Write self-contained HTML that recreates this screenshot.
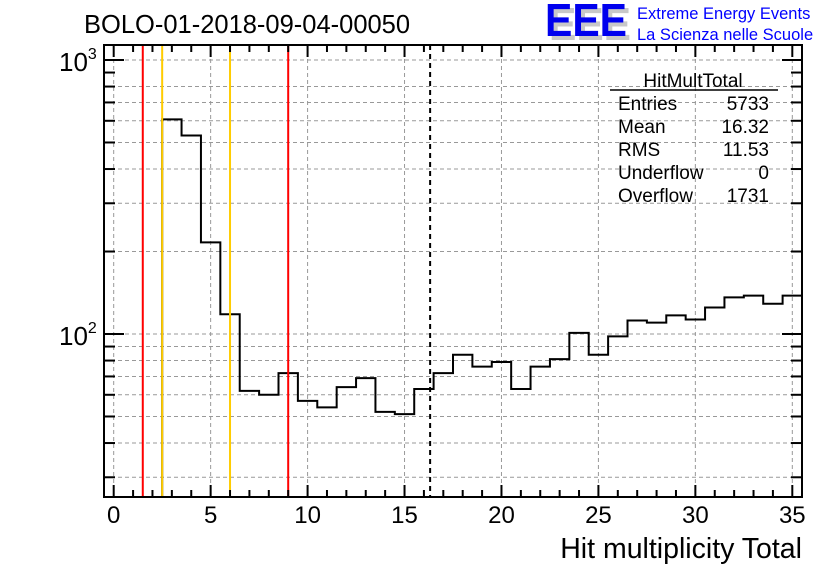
<!DOCTYPE html>
<html><head><meta charset="utf-8"><style>
html,body{margin:0;padding:0;background:#fff;}
svg{display:block;font-family:"Liberation Sans",sans-serif;}
</style></head><body>
<svg id="c" width="836" height="572" xmlns="http://www.w3.org/2000/svg">
<rect width="836" height="572" fill="#fff"/>
<text x="84" y="33" font-size="25.5" fill="#000">BOLO-01-2018-09-04-00050</text>
<g>
<text x="549" y="40" font-size="46" font-weight="bold" fill="#c8c8c8" textLength="82" lengthAdjust="spacingAndGlyphs">EEE</text>
<text x="545" y="36" font-size="46" font-weight="bold" fill="#0000ee" textLength="82" lengthAdjust="spacingAndGlyphs">EEE</text>
<text x="637" y="19" font-size="16.5" fill="#0000ff">Extreme Energy Events</text>
<text x="637" y="40" font-size="16.5" fill="#0000ff">La Scienza nelle Scuole</text>
</g>
<g id="grid"></g>
<g id="marks"></g>
<g id="axes"></g>
<g font-size="19" fill="#000">
<text x="693" y="87" text-anchor="middle">HitMultTotal</text>
<line x1="610" y1="90" x2="778" y2="90" stroke="#000" stroke-width="1.5"/>
<text x="618" y="110">Entries</text><text x="769" y="110" text-anchor="end">5733</text>
<text x="618" y="133">Mean</text><text x="769" y="133" text-anchor="end">16.32</text>
<text x="618" y="156">RMS</text><text x="769" y="156" text-anchor="end">11.53</text>
<text x="618" y="179">Underflow</text><text x="769" y="179" text-anchor="end">0</text>
<text x="618" y="202">Overflow</text><text x="769" y="202" text-anchor="end">1731</text>
</g>
<text x="802" y="558" font-size="28.5" text-anchor="end">Hit multiplicity Total</text>
</svg>
<script>
const binCenters=[3,4,5,6,7,8,9,10,11,12,13,14,15,16,17,18,19,20,21,22,23,24,25,26,27,28,29,30,31,32,33,34,35];
const counts=[607,530,216,118,62,60,72,57,54,64,69,52,51,63,72,84,76,79,63,76,81,101,84,98,112,110,117,113,125,136,138,129,138];
const xTicks=[0,5,10,15,20,25,30,35];
const redLines=[1.5,9];
const yellowLines=[2.5,6];
const meanValue=16.32;
const L=104,R=802,T=45,B=497,X0=-0.5,X1=35.5;
const xs=v=>L+(v-X0)/(X1-X0)*(R-L);
const ys=v=>334-274*Math.log10(v/100);
const NS='http://www.w3.org/2000/svg';
function mk(p,t,a){const e=document.createElementNS(NS,t);for(const k in a)e.setAttribute(k,a[k]);p.appendChild(e);return e;}
const grid=document.getElementById('grid'),marks=document.getElementById('marks'),axes=document.getElementById('axes');
const yMinor=[30,40,50,60,70,80,90,100,200,300,400,500,600,700,800,900,1000];
yMinor.forEach(v=>{if(v===900)return;const y=ys(v);if(y<T||y>B)return;
const l=mk(grid,'line',{x1:L,x2:R,y1:y,y2:y,stroke:'#999','stroke-dasharray':'4,3','stroke-width':1});

});
xTicks.forEach(v=>{const x=xs(v);
const l=mk(grid,'line',{x1:x,x2:x,y1:T,y2:B,stroke:'#999','stroke-dasharray':'4,3','stroke-width':1});

});
let d='M'+xs(binCenters[0]-0.5)+','+B;
binCenters.forEach((c,i)=>{const y=ys(counts[i]);d+=' L'+xs(c-0.5)+','+y+' L'+xs(c+0.5)+','+y;});
const h=mk(marks,'path',{d:d,fill:'none',stroke:'#000','stroke-width':2});


function vline(v,col,name,dash){const x=xs(v);const l=mk(marks,'line',{x1:x,x2:x,y1:T,y2:B,stroke:col,'stroke-width':2});if(dash)l.setAttribute('stroke-dasharray',dash);

}
redLines.forEach(v=>vline(v,'#ff0000','red-cut-line'));
yellowLines.forEach(v=>vline(v,'#ffcc00','yellow-cut-line'));
vline(meanValue,'#000','mean-line','5,4');
const f=mk(axes,'rect',{x:L,y:T,width:R-L,height:B-T,fill:'none',stroke:'#000','stroke-width':2});


for(let v=0;v<=35;v++){const x=xs(v),len=v%5===0?12:7;
mk(axes,'line',{x1:x,x2:x,y1:B,y2:B-len,stroke:'#000','stroke-width':2});
mk(axes,'line',{x1:x,x2:x,y1:T,y2:T+len,stroke:'#000','stroke-width':2});}
xTicks.forEach(v=>{const t=mk(axes,'text',{x:xs(v),y:523,'font-size':24,'text-anchor':'middle'});t.textContent=v;

});
yMinor.forEach(v=>{const y=ys(v);if(y<T||y>B)return;const len=(v===100||v===1000)?20:11;
mk(axes,'line',{x1:L,x2:L+len,y1:y,y2:y,stroke:'#000','stroke-width':2});
mk(axes,'line',{x1:R,x2:R-len,y1:y,y2:y,stroke:'#000','stroke-width':2});});
[[100,'2'],[1000,'3']].forEach(([v,e])=>{const t=mk(axes,'text',{x:59,y:ys(v)+11,'font-size':26});
t.innerHTML='10<tspan dy="-12" font-size="16">'+e+'</tspan>';

});
</script>
</body></html>
